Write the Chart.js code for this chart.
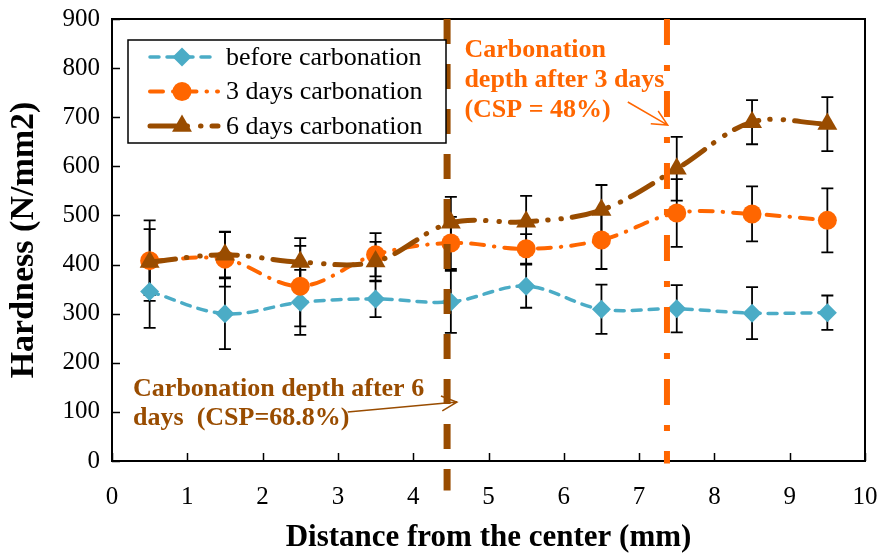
<!DOCTYPE html>
<html>
<head>
<meta charset="utf-8">
<script src="https://cdn.jsdelivr.net/npm/chart.js@4.4.0/dist/chart.umd.min.js"></script>
<style>
  html, body { margin: 0; padding: 0; background: #fff; }
  #wrap { width: 882px; height: 553px; }
</style>
</head>
<body>
<div id="wrap"><canvas id="chart-hardness"></canvas></div>
<script>
// data
const distances = [0.5, 1.5, 2.5, 3.5, 4.5, 5.5, 6.5, 7.5, 8.5, 9.5];
const beforeCarb = [345, 300, 323, 330, 324, 356, 309, 310, 301, 302];
const beforeErr  = [74, 72, 66, 37, 63, 44, 50, 48, 53, 35];
const days3Carb  = [408, 411, 356, 420, 444, 432, 450, 505, 503, 490];
const days3Err   = [82, 56, 82, 44, 53, 30, 59, 69, 56, 65];
const days6Carb  = [405, 420, 405, 406, 485, 487, 511, 595, 690, 686];
const days6Err   = [67, 46, 49, 40, 53, 53, 51, 65, 45, 55];

const xTickValues = [0, 1, 2, 3, 4, 5, 6, 7, 8, 9, 10];
const yTickValues = [0, 100, 200, 300, 400, 500, 600, 700, 800, 900];

// carbonation depth (mm) after 6 days and 3 days
const depthX = [4.45, 7.37];

const note3Lines = ['Carbonation', 'depth after 3 days', '(CSP = 48%)'];
const note6Lines = ['Carbonation depth after 6', 'days  (CSP=68.8%)'];

const SERIF = "'Liberation Serif', 'Times New Roman', serif";
const BLUE = '#4BACC6';
const ORANGE = '#FF6600';
const BROWN = '#994C00';

const toPoints = (ys) => ys.map((y, i) => ({ x: distances[i], y: y }));

const seriesInfo = [
    { label: 'before carbonation', values: beforeCarb, err: beforeErr, color: BLUE,
      style: 'rectRot', radius: 9.5, width: 3.5, dash: [9, 8] },
    { label: '3 days carbonation', values: days3Carb, err: days3Err, color: ORANGE,
      style: 'circle', radius: 9.5, width: 4, dash: [13, 10, 0.5, 10] },
    { label: '6 days carbonation', values: days6Carb, err: days6Err, color: BROWN,
      style: 'triangle', radius: 11.5, width: 5, dash: [26, 11, 0.5, 13, 0.5, 11] }
];

function drawMarker(ctx, style, x, y, r, color) {
    ctx.save();
    ctx.fillStyle = color;
    ctx.setLineDash([]);
    ctx.beginPath();
    if (style === 'circle') {
        ctx.arc(x, y, r, 0, Math.PI * 2);
    } else if (style === 'rectRot') {
        ctx.moveTo(x, y - r);
        ctx.lineTo(x + r, y);
        ctx.lineTo(x, y + r);
        ctx.lineTo(x - r, y);
    } else {
        ctx.moveTo(x, y - r);
        ctx.lineTo(x + r * 0.866, y + r * 0.5);
        ctx.lineTo(x - r * 0.866, y + r * 0.5);
    }
    ctx.closePath();
    ctx.fill();
    ctx.restore();
}

function drawArrow(ctx, x1, y1, x2, y2, color) {
    const ang = Math.atan2(y2 - y1, x2 - x1);
    const head = 17;
    ctx.save();
    ctx.strokeStyle = color;
    ctx.lineWidth = 1.5;
    ctx.setLineDash([]);
    ctx.beginPath();
    ctx.moveTo(x1, y1);
    ctx.lineTo(x2, y2);
    ctx.moveTo(x2 - head * Math.cos(ang - 0.45), y2 - head * Math.sin(ang - 0.45));
    ctx.lineTo(x2, y2);
    ctx.lineTo(x2 - head * Math.cos(ang + 0.45), y2 - head * Math.sin(ang + 0.45));
    ctx.stroke();
    ctx.restore();
}

const decorPlugin = {
    id: 'hardnessDecor',
    beforeDatasetsDraw(chart) {
        const { ctx, scales: { x, y } } = chart;
        // error bars under the markers
        ctx.save();
        ctx.strokeStyle = '#000';
        ctx.lineWidth = 1.8;
        seriesInfo.forEach(s => {
            s.values.forEach((v, i) => {
                const px = x.getPixelForValue(distances[i]);
                const top = y.getPixelForValue(v + s.err[i]);
                const bot = y.getPixelForValue(v - s.err[i]);
                ctx.beginPath();
                ctx.moveTo(px, top); ctx.lineTo(px, bot);
                ctx.moveTo(px - 6, top); ctx.lineTo(px + 6, top);
                ctx.moveTo(px - 6, bot); ctx.lineTo(px + 6, bot);
                ctx.stroke();
            });
        });
        ctx.restore();
    },
    afterDatasetsDraw(chart) {
        const { ctx, chartArea: a, scales: { x, y } } = chart;

        // plot frame and inward ticks
        ctx.save();
        ctx.strokeStyle = '#000';
        ctx.lineWidth = 2;
        ctx.strokeRect(a.left, a.top, a.right - a.left, a.bottom - a.top);
        ctx.lineWidth = 1.5;
        ctx.beginPath();
        yTickValues.forEach(v => {
            const py = Math.round(y.getPixelForValue(v)) + 0.5;
            ctx.moveTo(a.left, py); ctx.lineTo(a.left + 8, py);
        });
        xTickValues.forEach(v => {
            const px = Math.round(x.getPixelForValue(v)) + 0.5;
            ctx.moveTo(px, a.bottom); ctx.lineTo(px, a.bottom - 8);
        });
        ctx.stroke();
        ctx.restore();

        // carbonation depth lines
        ctx.save();
        ctx.lineCap = 'butt';
        ctx.strokeStyle = BROWN;
        ctx.lineWidth = 7;
        ctx.setLineDash([25, 20]);
        ctx.beginPath();
        ctx.moveTo(x.getPixelForValue(depthX[0]), y.getPixelForValue(900));
        ctx.lineTo(x.getPixelForValue(depthX[0]), y.getPixelForValue(-60));
        ctx.stroke();
        ctx.strokeStyle = ORANGE;
        ctx.lineWidth = 6;
        ctx.setLineDash([26, 20, 6, 20]);
        ctx.beginPath();
        ctx.moveTo(x.getPixelForValue(depthX[1]), y.getPixelForValue(900));
        ctx.lineTo(x.getPixelForValue(depthX[1]), y.getPixelForValue(-5));
        ctx.stroke();
        ctx.restore();

        // legend box
        const lx = a.left + 16, ly = a.top + 21;
        ctx.save();
        ctx.fillStyle = '#fff';
        ctx.fillRect(lx, ly, 318, 103);
        ctx.strokeStyle = '#000';
        ctx.lineWidth = 1.5;
        ctx.strokeRect(lx, ly, 318, 103);
        ctx.font = '26px ' + SERIF;
        ctx.textBaseline = 'middle';
        seriesInfo.forEach((s, i) => {
            const rowY = ly + 17 + i * 34.5;
            ctx.strokeStyle = s.color;
            ctx.lineWidth = s.width;
            ctx.lineCap = 'round';
            ctx.setLineDash(s.dash);
            ctx.beginPath();
            ctx.moveTo(lx + 22, rowY);
            ctx.lineTo(lx + 90, rowY);
            ctx.stroke();
            drawMarker(ctx, s.style, lx + 54, rowY, s.radius, s.color);
            ctx.fillStyle = '#000';
            ctx.fillText(s.label, lx + 98, rowY + 1);
        });
        ctx.restore();

        // annotations
        ctx.save();
        ctx.font = 'bold 26px ' + SERIF;
        ctx.textBaseline = 'middle';
        ctx.fillStyle = ORANGE;
        const n3x = x.getPixelForValue(4.68), n3y = y.getPixelForValue(837);
        note3Lines.forEach((t, i) => ctx.fillText(t, n3x, n3y + i * 30));
        ctx.fillStyle = BROWN;
        const n6x = x.getPixelForValue(0.28), n6y = y.getPixelForValue(147);
        note6Lines.forEach((t, i) => ctx.fillText(t, n6x, n6y + i * 29));
        ctx.restore();

        drawArrow(ctx, x.getPixelForValue(6.85), y.getPixelForValue(731),
                  x.getPixelForValue(7.38), y.getPixelForValue(684), ORANGE);
        drawArrow(ctx, x.getPixelForValue(3.13), y.getPixelForValue(100),
                  x.getPixelForValue(4.58), y.getPixelForValue(120), BROWN);
    }
};

const ctx = document.getElementById('chart-hardness').getContext('2d');

new Chart(ctx, {
    type: 'line',
    data: {
        datasets: seriesInfo.map((s, i) => ({
            label: s.label,
            data: toPoints(s.values),
            borderColor: s.color,
            backgroundColor: s.color,
            borderWidth: s.width,
            borderDash: s.dash,
            borderCapStyle: 'round',
            tension: 0.35,
            pointStyle: s.style,
            pointRadius: s.radius,
            pointBorderWidth: 0,
            pointBackgroundColor: s.color,
            fill: false,
            order: 2 - i
        }))
    },
    options: {
        responsive: true,
        maintainAspectRatio: false,
        devicePixelRatio: 1,
        animation: false,
        layout: { padding: { top: 19, right: 17, left: 0, bottom: 0 } },
        plugins: {
            legend: { display: false },
            tooltip: { enabled: false }
        },
        scales: {
            x: {
                type: 'linear',
                min: 0,
                max: 10,
                grid: { display: false },
                border: { display: false },
                ticks: {
                    stepSize: 1,
                    color: '#000',
                    padding: 13,
                    font: { family: SERIF, size: 25 }
                },
                title: {
                    display: true,
                    text: 'Distance from the center (mm)',
                    color: '#000',
                    padding: 0,
                    font: { family: SERIF, size: 31, weight: 'bold', lineHeight: 1.0 }
                },
                afterFit(scale) {
                    scale.height = 92;
                    scale.paddingLeft = 0;
                    scale.paddingRight = 0;
                }
            },
            y: {
                min: 0,
                max: 900,
                grid: { display: false },
                border: { display: false },
                ticks: {
                    stepSize: 100,
                    color: '#000',
                    padding: 4,
                    font: { family: SERIF, size: 25 }
                },
                title: {
                    display: true,
                    text: 'Hardness (N/mm2)',
                    color: '#000',
                    padding: 6,
                    font: { family: SERIF, size: 34, weight: 'bold', lineHeight: 1.1 }
                },
                afterFit(scale) {
                    scale.width = 112;
                    scale.paddingTop = 0;
                    scale.paddingBottom = 0;
                }
            }
        }
    },
    plugins: [decorPlugin]
});
</script>
</body>
</html>
